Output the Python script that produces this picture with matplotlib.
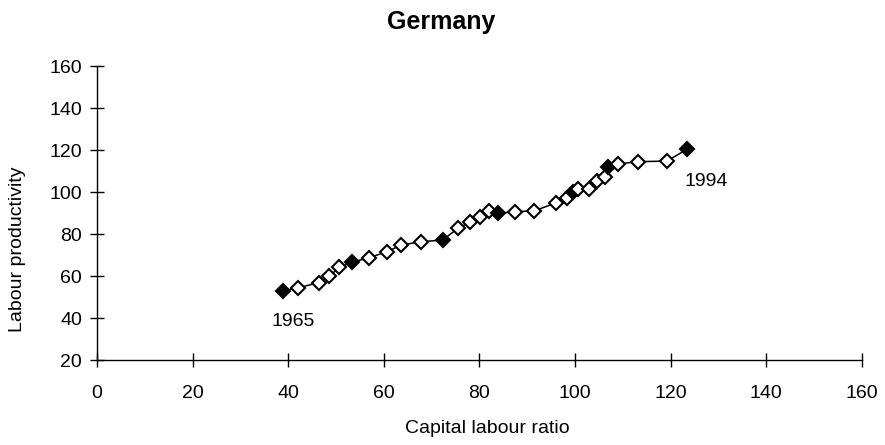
import matplotlib
matplotlib.use("Agg")
import matplotlib.pyplot as plt

plt.rcParams['font.family'] = ['Liberation Sans', 'DejaVu Sans']

# data, one point per year 1965-1994
years = list(range(1965, 1995))
capital_labour = [38.8, 42.1, 46.5, 48.6, 50.7, 53.3, 56.9, 60.6, 63.6, 67.7,
                  72.3, 75.6, 78.0, 80.1, 82.0, 83.9, 87.4, 91.5, 96.0, 98.2,
                  99.6, 100.5, 102.8, 104.6, 106.3, 106.8, 108.9, 113.1, 119.2, 123.4]
productivity = [53.0, 54.6, 57.1, 60.1, 64.3, 66.7, 68.9, 71.7, 74.9, 76.5,
                77.3, 83.1, 85.7, 88.1, 91.2, 90.0, 90.8, 91.2, 95.0, 97.4,
                100.3, 101.4, 101.4, 105.4, 107.4, 112.2, 113.5, 114.6, 114.9, 120.5]
filled_years = [1965, 1970, 1975, 1980, 1985, 1990, 1994]

fig = plt.figure(figsize=(8.85, 4.45), dpi=100)
ax = fig.add_axes([0.1096, 0.190, 0.8644, 0.661])

ax.plot(capital_labour, productivity, color='black', linewidth=1.1, zorder=1)
for yr, x, y in zip(years, capital_labour, productivity):
    face = 'black' if yr in filled_years else 'white'
    ax.plot(x, y, marker='D', markersize=7, markerfacecolor=face,
            markeredgecolor='black', markeredgewidth=1.5, zorder=2)

ax.annotate(str(years[0]), (capital_labour[0], productivity[0]),
            xytext=(8, -22), textcoords='offset points', ha='center',
            va='center', fontsize=14)
ax.annotate(str(years[-1]), (capital_labour[-1], productivity[-1]),
            xytext=(14, -23), textcoords='offset points', ha='center',
            va='center', fontsize=14)

ax.set_xlim(0, 160)
ax.set_ylim(20, 160)
ax.set_xticks(range(0, 161, 20))
ax.set_yticks(range(20, 161, 20))
ax.tick_params(direction='inout', length=9.5, width=1, labelsize=14)
ax.tick_params(axis='x', pad=13)
ax.tick_params(axis='y', pad=6)
for side in ['top', 'right']:
    ax.spines[side].set_visible(False)
for side in ['left', 'bottom']:
    ax.spines[side].set_linewidth(1)

fig.text(0.551, 0.038, 'Capital labour ratio', fontsize=14,
         ha='center', va='center')
fig.text(0.0203, 0.440, 'Labour productivity', fontsize=14,
         ha='center', va='center', rotation=90)
fig.text(0.498, 0.935, 'Germany', fontsize=18, fontweight='bold',
         ha='center', va='baseline')

fig.savefig('out.png', dpi=100)
